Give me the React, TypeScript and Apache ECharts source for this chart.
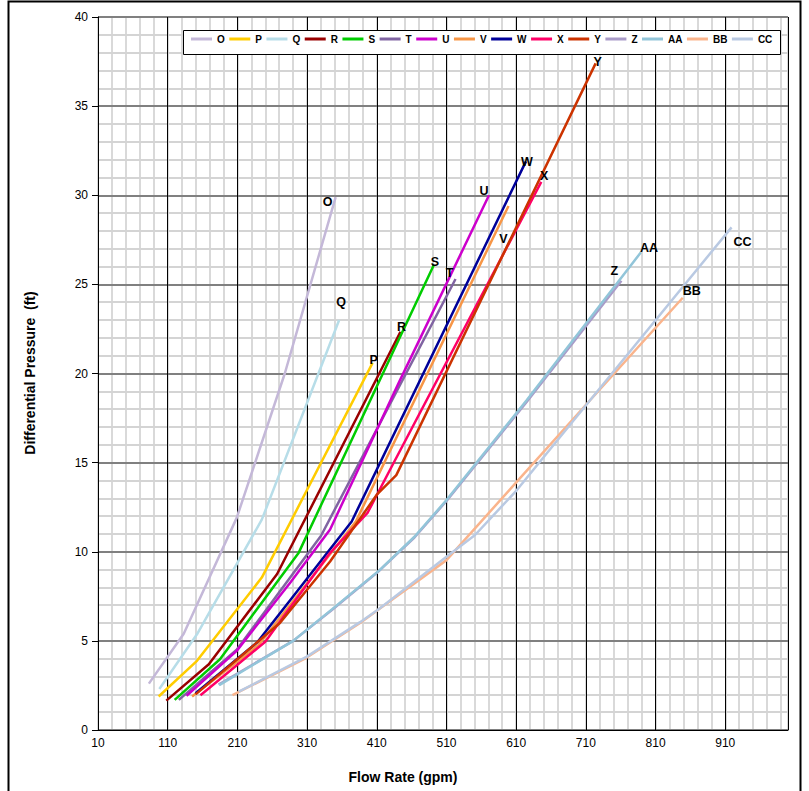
import React, { useEffect, useRef } from "react";
import * as echarts from "echarts";

const FONT = "'Liberation Sans', Arial, Helvetica, sans-serif";

const NAMES = ["O", "P", "Q", "R", "S", "T", "U", "V", "W", "X", "Y", "Z", "AA", "BB", "CC"];

const FLOW_O = [83, 133, 209, 278, 351];
const DP_O = [2.6, 5.4, 11.9, 20.0, 29.9];
const FLOW_P = [97, 152, 245, 404];
const DP_P = [1.88, 3.88, 8.55, 20.6];
const FLOW_Q = [98, 152, 245, 356];
const DP_Q = [2.3, 5.37, 11.8, 23.0];
const FLOW_R = [108, 169, 267, 444];
const DP_R = [1.65, 3.69, 8.75, 22.34];
const FLOW_S = [120, 185, 298, 492];
const DP_S = [1.69, 3.97, 9.95, 26.1];
const FLOW_T = [126, 209, 330, 523];
const DP_T = [1.69, 4.5, 10.9, 25.3];
const FLOW_U = [137, 209, 286, 343, 443, 571];
const DP_U = [1.92, 4.44, 8.27, 11.25, 19.6, 30.0];
const FLOW_V = [145, 240, 380, 599];
const DP_V = [1.88, 4.75, 11.7, 29.4];
const FLOW_W = [150, 238, 374, 624];
const DP_W = [2.07, 4.9, 11.7, 31.9];
const FLOW_X = [157, 250, 343, 397, 429, 646];
const DP_X = [1.95, 4.95, 9.94, 12.2, 14.6, 30.75];
const FLOW_Y = [150, 271, 343, 410, 438, 724];
const DP_Y = [2.0, 6.0, 9.45, 13.2, 14.3, 37.4];
const FLOW_Z = [183, 290, 346, 414, 464, 510, 625, 761];
const DP_Z = [2.55, 5.0, 6.75, 8.95, 10.8, 12.85, 18.4, 25.2];
const FLOW_AA = [184, 290, 346, 414, 464, 510, 625, 789];
const DP_AA = [2.52, 5.0, 6.78, 8.97, 10.84, 12.9, 18.5, 26.8];
const FLOW_BB = [203, 309, 386, 414, 510, 611, 716, 849];
const DP_BB = [1.96, 4.05, 6.0, 6.8, 9.53, 13.93, 18.5, 24.25];
const FLOW_CC = [212, 309, 386, 414, 510, 551, 611, 716, 919];
const DP_CC = [2.15, 4.1, 6.05, 6.82, 9.72, 10.94, 13.46, 18.5, 28.2];

const FLOWS = [FLOW_O, FLOW_P, FLOW_Q, FLOW_R, FLOW_S, FLOW_T, FLOW_U, FLOW_V, FLOW_W, FLOW_X, FLOW_Y, FLOW_Z, FLOW_AA, FLOW_BB, FLOW_CC];
const PRESSURES = [DP_O, DP_P, DP_Q, DP_R, DP_S, DP_T, DP_U, DP_V, DP_W, DP_X, DP_Y, DP_Z, DP_AA, DP_BB, DP_CC];

const COLORS = [
  "#c4b8d8", "#ffcc00", "#b7dde8", "#990000", "#00cc00", "#8064a2", "#cc00cc", "#f79646",
  "#000099", "#ff0066", "#cc3300", "#a99bc8", "#92c5d9", "#fab48c", "#b9c9e2",
];

const LABEL_OFFSETS = [
  [-8, 5], [1, -3], [2, -18], [1, -5], [1, -3], [-6, -6], [-5, -4], [-5, 33],
  [1, 1], [3, -6], [2, -1], [-7, -10], [8, -4], [9, -7], [11, 15],
];

export default function App() {
  const ref = useRef<HTMLDivElement | null>(null);

  useEffect(() => {
    if (!ref.current) return;
    const chart = echarts.init(ref.current, null, { renderer: "svg" });

    const series = NAMES.map((name, i) => {
      const fl = FLOWS[i];
      const dp = PRESSURES[i];
      const data = fl.map((f, k) => [f, dp[k]]);
      const last = data[data.length - 1];
      return {
        name,
        type: "line",
        xAxisIndex: 0,
        yAxisIndex: 0,
        z: 3,
        data,
        showSymbol: false,
        symbol: "none",
        silent: true,
        lineStyle: { color: COLORS[i], width: 2.5 },
        itemStyle: { color: COLORS[i] },
        markPoint: {
          symbol: "circle",
          symbolSize: 0,
          silent: true,
          itemStyle: { color: "transparent" },
          label: {
            show: true,
            position: "inside",
            formatter: name,
            offset: LABEL_OFFSETS[i],
            color: "#000",
            fontWeight: "bold",
            fontSize: 12.5,
            fontFamily: FONT,
          },
          data: [{ coord: last }],
        },
      };
    });

    const option = {
      animation: false,
      textStyle: { fontFamily: FONT },
      grid: { left: 98, top: 17, width: 690, height: 713, show: false },
      legend: {
        data: NAMES,
        left: 191,
        top: 34,
        z: 10,
        padding: 0,
        icon: "rect",
        itemWidth: 21,
        itemHeight: 3,
        itemGap: 4.5,
        selectedMode: false,
        textStyle: { fontSize: 10, fontWeight: "bold", color: "#000", fontFamily: FONT },
      },
      xAxis: [
        {
          type: "value",
          min: 10,
          max: 1000,
          interval: 100,
          z: 2,
          position: "bottom",
          axisLine: { show: true, onZero: false, lineStyle: { color: "#000", width: 1 } },
          axisTick: { show: false },
          axisLabel: { color: "#000", fontSize: 12, margin: 7, showMaxLabel: false, fontFamily: FONT },
          splitLine: { show: true, lineStyle: { color: "#000", width: 1 } },
        },
        {
          type: "value",
          min: 10,
          max: 1000,
          interval: 20,
          z: 0,
          position: "bottom",
          axisLine: { show: false },
          axisTick: { show: false },
          axisLabel: { show: false },
          splitLine: { show: true, lineStyle: { color: "#cccccc", width: 1.5 } },
        },
      ],
      yAxis: {
        type: "value",
        min: 0,
        max: 40,
        interval: 5,
        z: 1,
        axisLine: { show: true, onZero: false, lineStyle: { color: "#000", width: 1 } },
        axisTick: { show: true, length: 6, lineStyle: { color: "#000" } },
        axisLabel: { color: "#000", fontSize: 12, margin: 10, fontFamily: FONT },
        splitLine: { show: true, lineStyle: { color: "#808080", width: 2 } },
        minorTick: { show: false, splitNumber: 5 },
        minorSplitLine: { show: true, lineStyle: { color: "#d4d4d4", width: 2 } },
      },
      graphic: [
        {
          type: "rect",
          z: 0,
          shape: { x: 8.5, y: 1.5, width: 792, height: 800 },
          style: { fill: "none", stroke: "#000", lineWidth: 2 },
          silent: true,
        },
        {
          type: "rect",
          z: 9,
          shape: { x: 183.5, y: 30.5, width: 597, height: 24 },
          style: { fill: "#fff", stroke: "#000", lineWidth: 1 },
          silent: true,
        },
        {
          type: "text",
          x: 403,
          y: 777,
          style: {
            text: "Flow Rate (gpm)",
            fill: "#000",
            font: `bold 14px ${FONT}`,
            textAlign: "center",
            textVerticalAlign: "middle",
          },
        },
        {
          type: "text",
          x: 30,
          y: 373,
          rotation: Math.PI / 2,
          style: {
            text: "Differential Pressure  (ft)",
            fill: "#000",
            font: `bold 14px ${FONT}`,
            textAlign: "center",
            textVerticalAlign: "middle",
          },
        },
      ],
      series,
    };

    chart.setOption(option as any);
    return () => chart.dispose();
  }, []);

  return (
    <div
      ref={ref}
      style={{ position: "absolute", left: 0, top: 0, width: 809, height: 791, background: "#fff" }}
    />
  );
}
